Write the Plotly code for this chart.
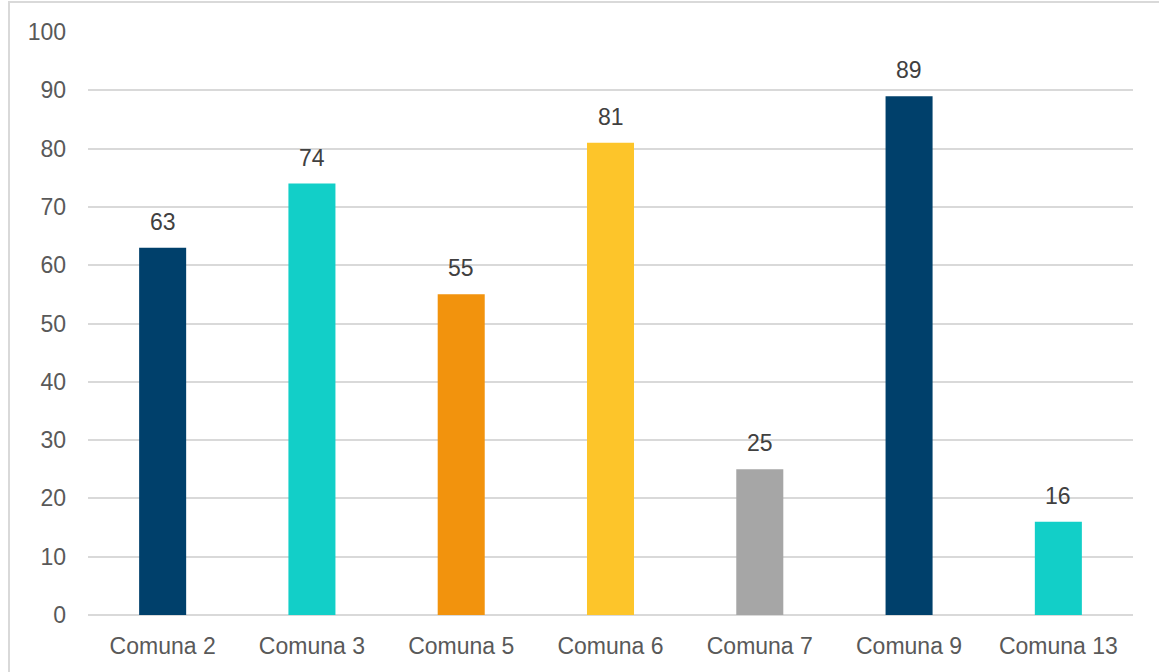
import plotly.graph_objects as go

categorias = ["Comuna 2", "Comuna 3", "Comuna 5", "Comuna 6", "Comuna 7", "Comuna 9", "Comuna 13"]
valores = [63, 74, 55, 81, 25, 89, 16]
colores = ["#00406b", "#12cfc8", "#f2930d", "#fdc52a", "#a6a6a6", "#00406b", "#12cfc8"]
ticks_y = [0, 10, 20, 30, 40, 50, 60, 70, 80, 90, 100]

fuente = "Liberation Sans, Arial"

fig = go.Figure(go.Bar(
    x=categorias,
    y=valores,
    marker=dict(color=colores, line=dict(width=0)),
    hoverinfo="x+y",
))

for cat, val in zip(categorias, valores):
    fig.add_annotation(
        x=cat, y=val, text=str(val), showarrow=False,
        yanchor="middle", yshift=26,
        font=dict(family=fuente, size=23, color="#404040"),
    )

fig.add_shape(
    type="rect", xref="paper", yref="paper",
    x0=-0.0756, x1=1.05, y0=-0.2, y1=1.0515,
    line=dict(color="#d9d9d9", width=2), layer="below",
)

fig.update_layout(
    width=1159, height=672,
    plot_bgcolor="white", paper_bgcolor="white",
    margin=dict(l=88, r=26, t=32, b=57),
    bargap=0.685,
    showlegend=False,
    font=dict(family=fuente, size=23, color="#595959"),
    xaxis=dict(showgrid=False, showline=False, ticks="", ticklabelstandoff=15,
               tickfont=dict(size=23)),
    yaxis=dict(
        range=[0, 100], tickvals=ticks_y, showgrid=True, gridcolor="#d9d9d9",
        gridwidth=1.5, zeroline=True, zerolinecolor="#d9d9d9", zerolinewidth=1.5,
        ticks="", ticklabelstandoff=21, tickfont=dict(size=23),
    ),
)

fig.write_html("out.html", config={"displayModeBar": False},
               post_script="document.body.style.margin='0';")
